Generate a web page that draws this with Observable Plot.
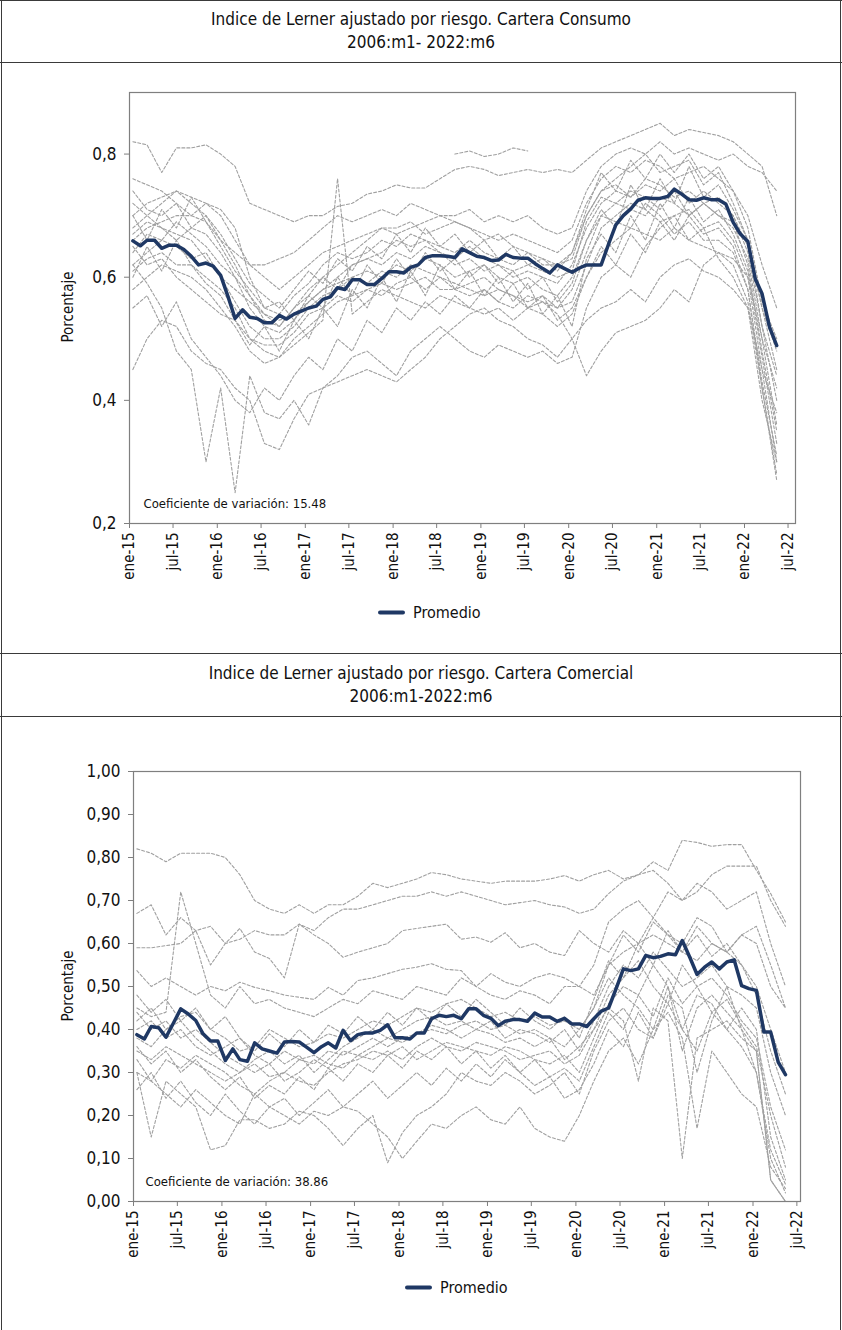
<!DOCTYPE html>
<html><head><meta charset="utf-8">
<script src="https://cdn.jsdelivr.net/npm/d3@7"></script>
<script src="https://cdn.jsdelivr.net/npm/@observablehq/plot@0.6"></script>
<style>
body{margin:0;background:#fff;}
#page{position:relative;width:842px;height:1330px;overflow:hidden;font-family:"Liberation Sans Narrow","Arial Narrow","DejaVu Sans Condensed",sans-serif;color:#111;background:#fff;}
.hline{position:absolute;left:0;width:842px;height:0;border-top:1.5px solid #3a3a3a;}
.vline{position:absolute;top:0;height:1330px;width:0;border-left:1.5px solid #3a3a3a;}
.title{position:absolute;left:0;width:842px;text-align:center;font-size:17px;line-height:23px;}
.ylab{position:absolute;font-size:15px;transform:translate(-50%,-50%) rotate(-90deg);white-space:nowrap;}
.legend{position:absolute;font-size:16px;display:flex;align-items:center;white-space:nowrap;transform:translateY(-50%);}
.legend .sw{display:inline-block;width:27px;height:4px;background:#1F3864;margin-right:8px;border-radius:2px;}
.panel{position:absolute;left:0;}
.panel svg{overflow:visible;}
</style></head><body><div id="page">
<div class="vline" style="left:0.5px"></div>
<div class="vline" style="left:840px"></div>
<div class="hline" style="top:0"></div>
<div class="hline" style="top:62px"></div>
<div class="hline" style="top:653px"></div>
<div class="hline" style="top:716px"></div>
<div class="title" style="top:8px">Indice de Lerner ajustado por riesgo. Cartera Consumo<br>2006:m1- 2022:m6</div>
<div class="title" style="top:662px">Indice de Lerner ajustado por riesgo. Cartera Comercial<br>2006:m1-2022:m6</div>
<div id="p1" class="panel" style="top:62px"></div>
<div id="p2" class="panel" style="top:716px"></div>
<div class="ylab" style="left:68px;top:307px">Porcentaje</div>
<div class="ylab" style="left:68px;top:986px">Porcentaje</div>
<div class="legend" style="left:378px;top:612px"><span class="sw"></span>Promedio</div>
<div class="legend" style="left:405px;top:1287px"><span class="sw"></span>Promedio</div>
</div>
<script>
// ---- tick labels ----
const xTickLabels = ["ene-15","jul-15","ene-16","jul-16","ene-17","jul-17","ene-18","jul-18","ene-19","jul-19","ene-20","jul-20","ene-21","jul-21","ene-22","jul-22"];
const consumoYTicks = [0.2, 0.4, 0.6, 0.8];
const comercialYTicks = [0, 0.1, 0.2, 0.3, 0.4, 0.5, 0.6, 0.7, 0.8, 0.9, 1.0];

// ---- Consumo: promedio mensual (ene-15 .. may-22) ----
const consumoPromedio = [
.659,.651,.660,.660,.647,.652,.652,.645,.634,.620,.623,.618,.603,.568,.533,.547,.535,.533,.526,.526,
.538,.532,.540,.545,.550,.553,.564,.568,.583,.580,.596,.596,.588,.588,.598,.609,.609,.607,.616,.620,
.632,.635,.635,.634,.632,.646,.640,.634,.632,.627,.628,.637,.632,.631,.631,.622,.614,.607,.620,.614,
.608,.615,.620,.620,.620,.654,.685,.700,.711,.725,.729,.728,.728,.731,.743,.735,.726,.725,.729,.726,
.726,.719,.689,.670,.658,.597,.573,.519,.489];
const comercialPromedio = [
.388,.378,.407,.404,.382,.415,.448,.436,.421,.390,.373,.373,.328,.355,.330,.326,.369,.355,.350,.345,
.371,.372,.371,.359,.346,.360,.369,.357,.398,.374,.388,.392,.392,.398,.411,.381,.381,.378,.392,.392,
.425,.433,.430,.433,.425,.448,.448,.433,.426,.409,.419,.423,.423,.419,.438,.429,.429,.419,.426,.413,
.413,.407,.425,.443,.450,.495,.541,.537,.541,.572,.567,.570,.576,.574,.607,.568,.528,.545,.557,.541,
.557,.562,.502,.495,.491,.394,.394,.324,.295];

// ---- Entidades (valores bimestrales: ene-15, mar-15, ... may-22) ----
const consumoBancos = [
[.82,.815,.77,.81,.81,.815,.80,.78,.72,.71,.70,.69,.70,.70,.715,.72,.735,.74,.75,.745,.745,.76,.775,.78,.775,.765,.77,.775,.77,.775,.77,.79,.81,.82,.83,.84,.85,.83,.84,.835,.83,.82,.80,.78,.70],
[.76,.75,.74,.72,.70,.69,.66,.64,.62,.62,.63,.64,.66,.68,.70,.69,.70,.71,.70,.72,.71,.70,.70,.71,.69,.70,.69,.70,.68,.67,.68,.74,.78,.80,.81,.80,.82,.80,.81,.80,.79,.80,.78,.77,.74],
[.70,.72,.73,.74,.73,.72,.70,.66,.62,.60,.58,.60,.62,.64,.65,.66,.67,.68,.68,.69,.67,.68,.69,.68,.67,.66,.67,.66,.65,.64,.66,.72,.76,.78,.77,.79,.78,.76,.77,.78,.76,.74,.70,.62,.55],
[.66,.68,.69,.70,.70,.72,.71,.68,.60,.55,.54,.57,.59,.62,.64,.63,.64,.66,.65,.67,.66,.65,.64,.66,.64,.63,.62,.64,.63,.62,.63,.70,.74,.76,.78,.80,.77,.78,.79,.75,.77,.72,.66,.55,.45],
[.64,.67,.66,.69,.67,.65,.62,.60,.57,.53,.52,.55,.57,.60,.58,.62,.63,.62,.64,.63,.65,.64,.62,.63,.61,.62,.60,.61,.60,.59,.62,.68,.72,.74,.73,.75,.74,.76,.72,.74,.72,.70,.64,.52,.40],
[.62,.64,.66,.65,.63,.64,.60,.56,.52,.50,.50,.52,.55,.57,.58,.60,.61,.60,.62,.61,.63,.62,.60,.61,.62,.60,.59,.60,.58,.57,.60,.66,.70,.72,.71,.70,.73,.72,.70,.72,.70,.69,.62,.48,.35],
[.61,.63,.64,.62,.62,.60,.58,.55,.50,.48,.47,.50,.52,.54,.56,.57,.58,.57,.59,.60,.58,.60,.59,.58,.57,.58,.57,.56,.57,.55,.56,.62,.68,.70,.72,.71,.69,.70,.71,.68,.69,.66,.60,.45,.30],
[.58,.60,.62,.61,.60,.58,.55,.52,.48,.46,.47,.49,.51,.53,.76,.54,.56,.58,.57,.56,.55,.57,.56,.55,.54,.55,.53,.55,.54,.52,.54,.60,.64,.66,.68,.67,.66,.68,.66,.65,.64,.62,.56,.42,.28],
[.45,.50,.53,.52,.48,.46,.45,.42,.40,.33,.32,.37,.41,.42,.43,.44,.45,.44,.43,.45,.47,.50,.52,.54,.55,.53,.52,.50,.49,.47,.50,.53,.55,.56,.58,.56,.60,.62,.63,.61,.60,.58,.55,.45,.38],
[.62,.59,.55,.48,.45,.30,.42,.25,.44,.38,.37,.40,.36,.42,.44,.47,.48,.46,.44,.48,.50,.52,.50,.48,.47,.49,.48,.47,.48,.46,.47,.55,.60,.62,.60,.65,.68,.70,.66,.68,.63,.60,.55,.40,.30],
[.68,.70,.72,.74,.72,.70,.66,.62,.57,.54,.52,.55,.58,.60,.62,.64,.66,.68,.67,.68,.69,.70,.69,.68,.66,.67,.65,.64,.62,.62,.64,.70,.74,.75,.73,.76,.75,.73,.74,.72,.73,.70,.65,.55,.48],
[.72,.70,.68,.67,.66,.63,.60,.58,.56,.54,.53,.54,.56,.58,.59,.60,.59,.61,.60,.62,.61,.60,.58,.59,.60,.58,.57,.55,.56,.54,.50,.44,.48,.51,.52,.53,.55,.58,.56,.62,.64,.63,.60,.50,.42],
[null,null,null,null,null,null,null,null,null,null,null,null,null,null,null,null,null,null,null,null,null,null,.80,.805,.796,.80,.81,.805,null,null,null,null,null,null,null,null,null,null,null,null,null,null,null,null,null],
[.67,.69,.68,.66,.68,.67,.64,.60,.55,.52,.51,.53,.56,.58,.60,.62,.63,.64,.66,.65,.66,.64,.63,.65,.63,.62,.61,.62,.61,.60,.61,.69,.73,.72,.74,.73,.71,.74,.70,.72,.70,.68,.63,.50,.36],
[.65,.62,.63,.60,.58,.56,.54,.53,.50,.49,.49,.51,.54,.55,.57,.56,.58,.59,.58,.59,.60,.58,.58,.57,.58,.56,.55,.57,.56,.55,.58,.64,.70,.69,.68,.72,.70,.67,.69,.66,.66,.64,.58,.42,.27],
[.70,.66,.71,.68,.73,.69,.65,.61,.58,.55,.56,.53,.57,.55,.60,.57,.62,.59,.63,.60,.64,.61,.63,.60,.62,.59,.61,.58,.60,.56,.59,.66,.71,.68,.75,.71,.76,.72,.78,.73,.75,.71,.66,.52,.44],
[.60,.65,.61,.66,.62,.59,.57,.53,.49,.52,.48,.53,.50,.55,.52,.58,.55,.60,.56,.61,.57,.62,.58,.61,.57,.60,.56,.59,.54,.57,.52,.63,.67,.64,.70,.66,.72,.68,.73,.69,.71,.67,.61,.47,.33],
[.74,.71,.70,.72,.68,.70,.67,.63,.59,.57,.55,.58,.61,.59,.63,.61,.65,.63,.67,.64,.68,.65,.67,.64,.66,.63,.65,.62,.63,.61,.64,.71,.77,.74,.79,.76,.80,.77,.80,.76,.78,.74,.68,.56,.50],
[.55,.57,.52,.56,.50,.47,.44,.40,.38,.42,.40,.44,.47,.45,.50,.48,.53,.51,.55,.53,.56,.54,.57,.55,.58,.56,.59,.55,.57,.53,.55,.60,.65,.62,.67,.64,.69,.66,.70,.67,.68,.65,.58,.43,.31]
];
const comercialBancos = [
[.82,.81,.79,.81,.81,.81,.80,.76,.70,.68,.67,.69,.67,.69,.69,.71,.74,.73,.74,.75,.765,.76,.75,.745,.74,.745,.745,.745,.75,.758,.745,.76,.77,.75,.76,.79,.77,.84,.835,.826,.83,.83,.77,.716,.65],
[.67,.69,.62,.66,.63,.64,.60,.61,.63,.62,.62,.645,.63,.66,.68,.68,.69,.70,.71,.71,.72,.71,.72,.71,.70,.69,.695,.70,.69,.685,.67,.68,.716,.745,.76,.77,.74,.70,.72,.76,.78,.78,.78,.70,.64],
[.59,.59,.595,.60,.63,.55,.60,.635,.58,.565,.52,.645,.62,.60,.568,.58,.59,.60,.63,.635,.64,.645,.61,.615,.603,.625,.59,.60,.58,.572,.63,.60,.58,.63,.60,.66,.62,.58,.64,.60,.58,.62,.64,.55,.45],
[.537,.50,.52,.50,.48,.50,.49,.51,.498,.49,.48,.475,.47,.498,.48,.514,.52,.53,.54,.545,.553,.54,.537,.50,.53,.51,.50,.52,.53,.52,.50,.48,.55,.62,.58,.65,.62,.60,.66,.64,.58,.62,.60,.50,.45],
[.45,.43,.44,.72,.60,.48,.45,.50,.46,.47,.45,.44,.43,.45,.47,.46,.49,.48,.47,.50,.49,.48,.52,.50,.48,.47,.49,.48,.46,.50,.50,.55,.65,.68,.70,.66,.72,.70,.74,.72,.68,.70,.72,.60,.50],
[.42,.45,.40,.43,.44,.40,.38,.35,.36,.40,.38,.36,.37,.39,.38,.40,.42,.41,.43,.45,.44,.46,.47,.45,.43,.44,.42,.43,.41,.42,.40,.45,.55,.58,.60,.62,.60,.58,.56,.60,.58,.55,.50,.40,.30],
[.38,.36,.40,.42,.38,.35,.32,.30,.33,.35,.32,.34,.30,.33,.36,.38,.40,.38,.40,.42,.43,.41,.42,.40,.42,.38,.40,.39,.37,.40,.35,.42,.50,.55,.52,.58,.54,.50,.52,.55,.50,.48,.45,.30,.20],
[.35,.33,.36,.34,.32,.30,.28,.30,.32,.29,.30,.33,.32,.35,.34,.36,.38,.36,.38,.39,.41,.40,.38,.40,.39,.37,.38,.36,.38,.33,.36,.40,.48,.52,.56,.50,.46,.55,.50,.52,.48,.42,.38,.22,.12],
[.30,.28,.33,.31,.34,.32,.30,.27,.25,.28,.30,.28,.27,.30,.32,.33,.35,.34,.36,.33,.35,.37,.36,.35,.34,.36,.35,.33,.32,.34,.30,.38,.46,.50,.48,.55,.50,.40,.48,.46,.40,.45,.40,.15,.05],
[.44,.40,.42,.38,.40,.37,.34,.32,.30,.32,.35,.33,.34,.32,.31,.34,.36,.38,.37,.39,.40,.39,.41,.42,.40,.41,.39,.40,.38,.36,.40,.45,.52,.48,.45,.40,.50,.35,.45,.48,.44,.40,.30,.10,.02],
[.40,.42,.38,.40,.36,.34,.36,.38,.34,.32,.28,.30,.33,.31,.35,.34,.33,.35,.33,.36,.38,.36,.35,.37,.36,.35,.33,.34,.35,.32,.34,.40,.45,.42,.28,.45,.42,.10,.38,.40,.42,.38,.35,.05,0],
[.30,.15,.28,.25,.22,.12,.13,.19,.19,.17,.18,.21,.20,.17,.13,.17,.20,.09,.16,.20,.22,.25,.30,.28,.27,.30,.28,.25,.27,.30,.25,.35,.42,.45,.40,.38,.48,.45,.30,.42,.50,.40,.35,.05,0],
[.33,.28,.25,.22,.26,.23,.20,.18,.25,.22,.20,.18,.21,.20,.22,.21,.18,.15,.10,.14,.18,.17,.20,.22,.19,.18,.22,.17,.15,.14,.20,.28,.35,.38,.32,.40,.44,.38,.17,.35,.30,.25,.22,.08,.03],
[.48,.44,.47,.42,.45,.40,.43,.38,.35,.39,.36,.40,.37,.41,.39,.43,.40,.44,.41,.45,.42,.46,.43,.47,.44,.41,.45,.42,.40,.43,.38,.47,.56,.52,.60,.55,.63,.58,.62,.57,.60,.55,.48,.35,.25],
[.36,.32,.35,.30,.33,.29,.26,.29,.24,.27,.25,.29,.26,.31,.28,.32,.30,.34,.31,.35,.33,.36,.32,.35,.31,.34,.30,.33,.29,.31,.28,.36,.44,.40,.48,.43,.52,.46,.50,.44,.47,.41,.36,.20,.08],
[.26,.30,.24,.28,.23,.20,.25,.21,.18,.22,.24,.20,.23,.26,.22,.25,.28,.24,.27,.30,.27,.31,.28,.32,.29,.33,.30,.27,.29,.24,.26,.32,.40,.36,.44,.38,.46,.40,.35,.44,.40,.36,.30,.12,.04]
];

const FONT = '"Liberation Sans Narrow","Arial Narrow","DejaVu Sans Condensed",sans-serif';
const xTickDates = xTickLabels.map((s, i) => new Date(Date.UTC(2015, 6 * i, 1)));
const monthDate = m => new Date(Date.UTC(2015, m, 15));
const xLabel = d => xTickLabels[xTickDates.findIndex(t => +t === +d)];

function panel({promedio, bancos, yDomain, yTicks, yFormat, xEnd, ml, mr, mt, mb, frameH, coef, coefDx}) {
  const grey = [];
  bancos.forEach((s, j) => s.forEach((v, k) => grey.push({serie: j, date: monthDate(2 * k), value: v})));
  const avg = promedio.map((v, m) => ({date: monthDate(m), value: v}));
  return Plot.plot({
    width: 842, height: mt + frameH + mb,
    marginLeft: ml, marginRight: mr, marginTop: mt, marginBottom: mb,
    style: {fontFamily: FONT, fontSize: "15px", color: "#111", background: "transparent", overflow: "visible"},
    x: {type: "utc", domain: [new Date(Date.UTC(2015, 0, 1)), xEnd]},
    y: {domain: yDomain},
    marks: [
      Plot.line(grey, {x: "date", y: "value", z: "serie", stroke: "#a0a0a0", strokeWidth: 1.1, strokeDasharray: "3,2"}),
      Plot.line(avg, {x: "date", y: "value", stroke: "#1F3864", strokeWidth: 3.5, strokeLinejoin: "round"}),
      Plot.frame({stroke: "#7f7f7f", strokeWidth: 1.2}),
      Plot.axisY({ticks: yTicks, tickFormat: yFormat, tickSize: 5, tickPadding: 8, stroke: "#7f7f7f", fill: "#111", fontSize: 17, label: null}),
      Plot.axisX({ticks: xTickDates, tickFormat: xLabel, tickRotate: -90, tickSize: 5, tickPadding: 4, stroke: "#7f7f7f", fill: "#111", fontSize: 15, label: null}),
      Plot.text([coef], {text: d => d, frameAnchor: "bottom-left", textAnchor: "start", dx: coefDx, dy: -16, fontSize: 13, fill: "#111"})
    ]
  });
}

document.getElementById("p1").append(panel({
  promedio: consumoPromedio, bancos: consumoBancos,
  yDomain: [0.2, 0.9], yTicks: consumoYTicks, yFormat: d => d.toFixed(1).replace(".", ","),
  xEnd: new Date(Date.UTC(2022, 7, 1)), ml: 129, mr: 47, mt: 30, mb: 60, frameH: 431,
  coef: "Coeficiente de variación: 15.48", coefDx: 14
}));
document.getElementById("p2").append(panel({
  promedio: comercialPromedio, bancos: comercialBancos,
  yDomain: [0, 1], yTicks: comercialYTicks, yFormat: d => d.toFixed(2).replace(".", ","),
  xEnd: new Date(Date.UTC(2022, 6, 16)), ml: 133, mr: 42, mt: 55, mb: 60, frameH: 430,
  coef: "Coeficiente de variación: 38.86", coefDx: 12
}));
</script></body></html>
